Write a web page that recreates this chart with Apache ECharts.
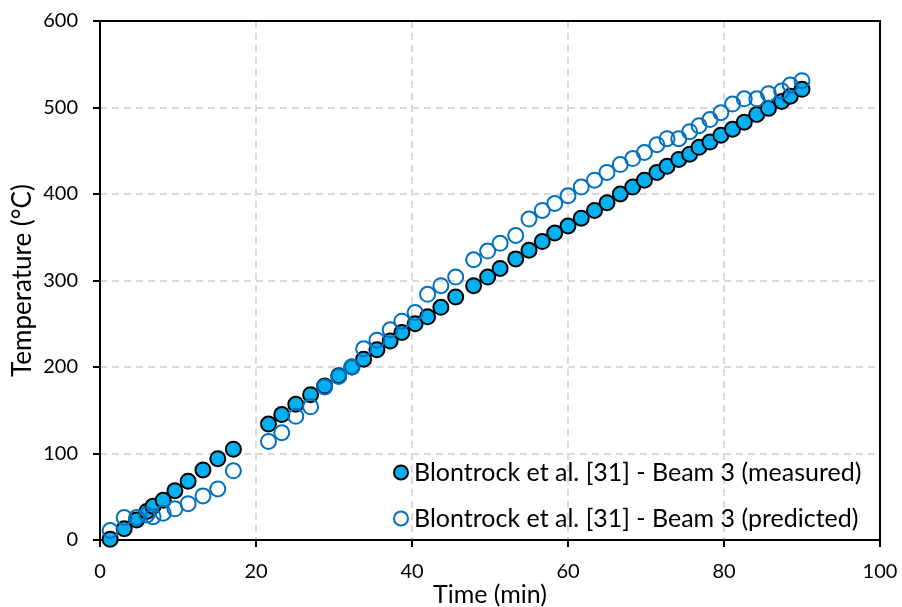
<!DOCTYPE html>
<html>
<head>
<meta charset="utf-8">
<script src="https://cdn.jsdelivr.net/npm/echarts@6/dist/echarts.min.js"></script>
<style>
html,body{margin:0;padding:0;background:#fff;}
#chart{width:902px;height:607px;}
</style>
</head>
<body>
<div id="chart"></div>
<script>
const timeMin = [1.3,3.1,4.7,6.0,6.8,8.1,9.6,11.3,13.2,15.1,17.1,
  21.6,23.3,25.1,27.0,28.8,30.6,32.3,33.8,35.5,37.2,38.7,40.4,42.0,43.7,45.6,47.9,49.7,51.3,
  53.3,55.0,56.7,58.3,60.0,61.7,63.4,65.0,66.7,68.3,69.8,71.4,72.7,74.2,75.6,
  76.8,78.2,79.6,81.1,82.6,84.2,85.7,87.4,88.5,90.0];
const measured = [1,13,23,33,39,46,57,68,81,94,105,
  134,145,157,168,178,190,200,209,220,230,240,250,258,269,281,294,304,314,
  325,335,345,355,363,372,381,390,400,408,416,425,432,440,446,
  454,460,468,475,483,492,499,507,513,521];
const predicted = [11,26,26,29,27,31,36,42,51,59,80,
  114,124,143,154,177,189,200,221,231,243,253,263,284,294,304,324,334,343,
  352,371,381,389,398,408,416,425,434,441,448,457,464,464,472,
  479,486,494,504,510,510,516,519,526,531];
const seriesNames = ['Blontrock et al. [31] - Beam 3 (measured)','Blontrock et al. [31] - Beam 3 (predicted)'];
const xTicks = {min:0,max:100,interval:20};
const yTicks = {min:0,max:600,interval:100};

const FONT = 'Lato, "Open Sans", sans-serif';
const chart = echarts.init(document.getElementById('chart'), null, {renderer:'canvas'});
const pair = (xs, ys) => xs.map((x,i)=>[x, ys[i]]);
const grid = {type:[7,5],color:'#D9D9D9',width:2};
const frameAxis = {type:'value',axisLabel:{show:false},axisTick:{show:false},splitLine:{show:false},
  axisLine:{show:true,onZero:false,lineStyle:{color:'#000',width:2}}};
chart.setOption({
  animation:false,
  backgroundColor:'#ffffff',
  grid:{left:100,right:22,top:21,bottom:67,show:false,containLabel:false,outerBoundsMode:'none'},
  xAxis:[{type:'value',min:xTicks.min,max:xTicks.max,interval:xTicks.interval,
    name:'Time (min)',nameLocation:'middle',nameGap:42,nameMoveOverlap:false,
    nameTextStyle:{color:'#000',fontFamily:FONT,fontSize:25},
    axisLine:{show:true,onZero:false,lineStyle:{color:'#000',width:2}},
    axisTick:{show:true,inside:false,length:7,lineStyle:{color:'#000',width:2}},
    axisLabel:{color:'#000',fontFamily:FONT,fontSize:20,margin:22},
    splitLine:{show:true,lineStyle:grid}
  },
  Object.assign({position:'top',min:xTicks.min,max:xTicks.max},frameAxis)],
  yAxis:[{type:'value',min:yTicks.min,max:yTicks.max,interval:yTicks.interval,
    name:'Temperature (°C)',nameLocation:'middle',nameGap:64,nameMoveOverlap:false,
    nameTextStyle:{color:'#000',fontFamily:FONT,fontSize:26},
    axisLine:{show:true,onZero:false,lineStyle:{color:'#000',width:2}},
    axisTick:{show:true,inside:false,length:7,lineStyle:{color:'#000',width:2}},
    axisLabel:{color:'#000',fontFamily:FONT,fontSize:20,margin:22},
    splitLine:{show:true,lineStyle:grid}
  },
  Object.assign({position:'right',min:yTicks.min,max:yTicks.max},frameAxis)],
  legend:{orient:'vertical',left:388,top:455,itemGap:21,itemWidth:14,itemHeight:14,
    icon:'circle',textStyle:{color:'#000',fontFamily:FONT,fontSize:25,padding:[0,0,0,1]},
    data:seriesNames},
  series:[
    {name:seriesNames[0],type:'scatter',symbol:'circle',symbolSize:15,
     itemStyle:{color:'#00B0F0',borderColor:'#000',borderWidth:2,opacity:1},
     data:pair(timeMin,measured),z:2},
    {name:seriesNames[1],type:'scatter',symbol:'circle',symbolSize:15,
     itemStyle:{color:'rgba(255,255,255,0)',borderColor:'#0070C0',borderWidth:2,opacity:1},
     data:pair(timeMin,predicted),z:3}
  ]
});
</script>
</body>
</html>
